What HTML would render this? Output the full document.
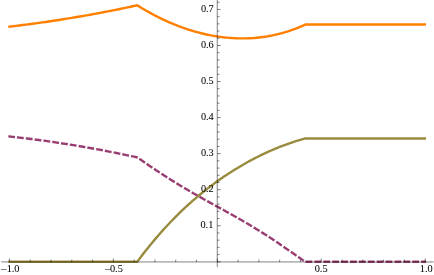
<!DOCTYPE html>
<html><head><meta charset="utf-8"><title>Plot</title>
<style>html,body{margin:0;padding:0;background:#fff;}body{width:434px;height:275px;overflow:hidden;font-family:"Liberation Serif",serif;}svg{display:block;}</style>
</head><body><svg width="434" height="275" viewBox="0 0 434 275" style="will-change:transform"><g fill="none" stroke-width="2.4" stroke-linecap="square" stroke-linejoin="miter" stroke-miterlimit="10">
<path d="M9.50,26.62 L12.78,26.24 L16.05,25.86 L19.33,25.46 L22.61,25.06 L25.88,24.64 L29.16,24.22 L32.44,23.78 L35.72,23.34 L38.99,22.88 L42.27,22.42 L45.55,21.95 L48.82,21.47 L52.10,20.98 L55.38,20.47 L58.65,19.96 L61.93,19.44 L65.21,18.91 L68.48,18.38 L71.76,17.84 L75.04,17.30 L78.32,16.76 L81.59,16.20 L84.87,15.64 L88.15,15.06 L91.42,14.48 L94.70,13.88 L97.98,13.28 L101.25,12.67 L104.53,12.05 L107.81,11.41 L111.08,10.77 L114.36,10.12 L117.64,9.46 L120.92,8.79 L124.19,8.11 L127.47,7.42 L130.75,6.73 L134.02,6.02 L137.30,5.30 L139.43,6.63 L141.56,7.93 L143.69,9.20 L145.83,10.44 L147.96,11.65 L150.09,12.84 L152.22,14.00 L154.35,15.13 L156.48,16.24 L158.62,17.31 L160.75,18.36 L162.88,19.39 L165.01,20.38 L167.14,21.35 L169.27,22.29 L171.41,23.21 L173.54,24.10 L175.67,24.96 L177.80,25.80 L179.93,26.61 L182.06,27.39 L184.20,28.14 L186.33,28.87 L188.46,29.58 L190.59,30.25 L192.72,30.90 L194.85,31.53 L196.99,32.12 L199.12,32.70 L201.25,33.24 L203.38,33.76 L205.51,34.25 L207.64,34.71 L209.78,35.15 L211.91,35.56 L214.04,35.94 L216.17,36.30 L218.30,36.63 L220.43,36.93 L222.57,37.20 L224.70,37.45 L226.83,37.67 L228.96,37.86 L231.09,38.02 L233.22,38.16 L235.36,38.27 L237.49,38.35 L239.62,38.40 L241.75,38.42 L243.88,38.41 L246.01,38.37 L248.15,38.31 L250.28,38.21 L252.41,38.08 L254.54,37.93 L256.67,37.74 L258.80,37.53 L260.94,37.28 L263.07,37.00 L265.20,36.69 L267.33,36.35 L269.46,35.98 L271.59,35.57 L273.73,35.13 L275.86,34.66 L277.99,34.16 L280.12,33.62 L282.25,33.05 L284.38,32.45 L286.52,31.81 L288.65,31.13 L290.78,30.43 L292.91,29.68 L295.04,28.90 L297.17,28.08 L299.31,27.23 L301.44,26.34 L303.57,25.41 L305.70,24.45 L424.80,24.45" stroke="#FF8000"/>
<path d="M9.50,136.50 L12.78,136.86 L16.05,137.22 L19.33,137.59 L22.61,137.98 L25.88,138.37 L29.16,138.78 L32.44,139.19 L35.72,139.61 L38.99,140.04 L42.27,140.48 L45.55,140.93 L48.82,141.39 L52.10,141.86 L55.38,142.34 L58.65,142.83 L61.93,143.33 L65.21,143.84 L68.48,144.35 L71.76,144.88 L75.04,145.42 L78.32,145.96 L81.59,146.52 L84.87,147.08 L88.15,147.66 L91.42,148.24 L94.70,148.84 L97.98,149.44 L101.25,150.05 L104.53,150.67 L107.81,151.31 L111.08,151.95 L114.36,152.60 L117.64,153.26 L120.92,153.93 L124.19,154.61 L127.47,155.30 L130.75,155.99 L134.02,156.70 L137.30,157.42 L139.42,158.88 L141.55,160.34 L143.67,161.79 L145.80,163.25 L147.92,164.70 L150.04,166.14 L152.17,167.57 L154.29,169.00 L156.42,170.42 L158.54,171.83 L160.66,173.23 L162.79,174.61 L164.91,175.99 L167.04,177.35 L169.16,178.71 L171.28,180.04 L173.41,181.37 L175.53,182.69 L177.66,183.99 L179.78,185.28 L181.91,186.56 L184.03,187.83 L186.15,189.08 L188.28,190.33 L190.40,191.56 L192.53,192.79 L194.65,194.01 L196.77,195.22 L198.90,196.42 L201.02,197.61 L203.15,198.80 L205.27,199.98 L207.39,201.16 L209.52,202.33 L211.64,203.50 L213.77,204.67 L215.89,205.84 L218.01,207.00 L220.14,208.17 L222.26,209.34 L224.39,210.51 L226.51,211.69 L228.63,212.87 L230.76,214.05 L232.88,215.24 L235.01,216.44 L237.13,217.64 L239.25,218.85 L241.38,220.07 L243.50,221.30 L245.63,222.54 L247.75,223.79 L249.87,225.05 L252.00,226.33 L254.12,227.61 L256.25,228.91 L258.37,230.22 L260.49,231.55 L262.62,232.89 L264.74,234.24 L266.87,235.60 L268.99,236.98 L271.12,238.36 L273.24,239.77 L275.36,241.18 L277.49,242.60 L279.61,244.04 L281.74,245.49 L283.86,246.94 L285.98,248.41 L288.11,249.88 L290.23,251.36 L292.36,252.84 L294.48,254.33 L296.60,255.82 L298.73,257.30 L300.85,258.79 L302.98,260.27 L305.10,261.75 L424.80,261.75" stroke="#993D71" stroke-dasharray="4.45 4.445" stroke-dashoffset="0.2"/>
<path d="M9.50,261.75 L12.78,261.75 L16.05,261.75 L19.33,261.75 L22.61,261.75 L25.88,261.75 L29.16,261.75 L32.44,261.75 L35.72,261.75 L38.99,261.75 L42.27,261.75 L45.55,261.75 L48.82,261.75 L52.10,261.75 L55.38,261.75 L58.65,261.75 L61.93,261.75 L65.21,261.75 L68.48,261.75 L71.76,261.75 L75.04,261.75 L78.32,261.75 L81.59,261.75 L84.87,261.75 L88.15,261.75 L91.42,261.75 L94.70,261.75 L97.98,261.75 L101.25,261.75 L104.53,261.75 L107.81,261.75 L111.08,261.75 L114.36,261.75 L117.64,261.75 L120.92,261.75 L124.19,261.75 L127.47,261.75 L130.75,261.75 L134.02,261.75 L137.30,261.75 L139.42,258.88 L141.55,256.06 L143.67,253.29 L145.80,250.57 L147.92,247.89 L150.04,245.26 L152.17,242.67 L154.29,240.12 L156.42,237.62 L158.54,235.16 L160.66,232.74 L162.79,230.36 L164.91,228.02 L167.04,225.72 L169.16,223.46 L171.28,221.24 L173.41,219.05 L175.53,216.90 L177.66,214.79 L179.78,212.71 L181.91,210.67 L184.03,208.66 L186.15,206.68 L188.28,204.74 L190.40,202.83 L192.53,200.96 L194.65,199.11 L196.77,197.30 L198.90,195.52 L201.02,193.76 L203.15,192.04 L205.27,190.35 L207.39,188.68 L209.52,187.04 L211.64,185.44 L213.77,183.86 L215.89,182.30 L218.01,180.77 L220.14,179.27 L222.26,177.80 L224.39,176.35 L226.51,174.93 L228.63,173.53 L230.76,172.16 L232.88,170.81 L235.01,169.49 L237.13,168.19 L239.25,166.91 L241.38,165.66 L243.50,164.43 L245.63,163.22 L247.75,162.04 L249.87,160.88 L252.00,159.74 L254.12,158.63 L256.25,157.54 L258.37,156.47 L260.49,155.42 L262.62,154.39 L264.74,153.39 L266.87,152.41 L268.99,151.45 L271.12,150.51 L273.24,149.59 L275.36,148.70 L277.49,147.82 L279.61,146.97 L281.74,146.14 L283.86,145.33 L285.98,144.54 L288.11,143.78 L290.23,143.04 L292.36,142.31 L294.48,141.61 L296.60,140.94 L298.73,140.28 L300.85,139.65 L302.98,139.04 L305.10,138.45 L424.80,138.45" stroke="#998B3D"/>
</g>
<g stroke="#000" stroke-width="0.7" fill="none" stroke-opacity="0.7">
<line x1="1.2" y1="261.95" x2="433.6" y2="261.95"/>
<line x1="217.25" y1="0.0" x2="217.25" y2="267.0"/>
<line x1="9.40" y1="261.95" x2="9.40" y2="258.45"/>
<line x1="30.19" y1="261.95" x2="30.19" y2="259.65"/>
<line x1="50.98" y1="261.95" x2="50.98" y2="259.65"/>
<line x1="71.77" y1="261.95" x2="71.77" y2="259.65"/>
<line x1="92.56" y1="261.95" x2="92.56" y2="259.65"/>
<line x1="113.35" y1="261.95" x2="113.35" y2="258.45"/>
<line x1="134.14" y1="261.95" x2="134.14" y2="259.65"/>
<line x1="154.93" y1="261.95" x2="154.93" y2="259.65"/>
<line x1="175.72" y1="261.95" x2="175.72" y2="259.65"/>
<line x1="196.51" y1="261.95" x2="196.51" y2="259.65"/>
<line x1="217.30" y1="261.95" x2="217.30" y2="258.45"/>
<line x1="238.09" y1="261.95" x2="238.09" y2="259.65"/>
<line x1="258.88" y1="261.95" x2="258.88" y2="259.65"/>
<line x1="279.67" y1="261.95" x2="279.67" y2="259.65"/>
<line x1="300.46" y1="261.95" x2="300.46" y2="259.65"/>
<line x1="321.25" y1="261.95" x2="321.25" y2="258.45"/>
<line x1="342.04" y1="261.95" x2="342.04" y2="259.65"/>
<line x1="362.83" y1="261.95" x2="362.83" y2="259.65"/>
<line x1="383.62" y1="261.95" x2="383.62" y2="259.65"/>
<line x1="404.41" y1="261.95" x2="404.41" y2="259.65"/>
<line x1="425.20" y1="261.95" x2="425.20" y2="258.45"/>
<line x1="217.25" y1="261.80" x2="220.75" y2="261.80"/>
<line x1="217.25" y1="254.59" x2="219.55" y2="254.59"/>
<line x1="217.25" y1="247.38" x2="219.55" y2="247.38"/>
<line x1="217.25" y1="240.17" x2="219.55" y2="240.17"/>
<line x1="217.25" y1="232.96" x2="219.55" y2="232.96"/>
<line x1="217.25" y1="225.75" x2="220.75" y2="225.75"/>
<line x1="217.25" y1="218.54" x2="219.55" y2="218.54"/>
<line x1="217.25" y1="211.33" x2="219.55" y2="211.33"/>
<line x1="217.25" y1="204.12" x2="219.55" y2="204.12"/>
<line x1="217.25" y1="196.91" x2="219.55" y2="196.91"/>
<line x1="217.25" y1="189.70" x2="220.75" y2="189.70"/>
<line x1="217.25" y1="182.49" x2="219.55" y2="182.49"/>
<line x1="217.25" y1="175.28" x2="219.55" y2="175.28"/>
<line x1="217.25" y1="168.07" x2="219.55" y2="168.07"/>
<line x1="217.25" y1="160.86" x2="219.55" y2="160.86"/>
<line x1="217.25" y1="153.65" x2="220.75" y2="153.65"/>
<line x1="217.25" y1="146.44" x2="219.55" y2="146.44"/>
<line x1="217.25" y1="139.23" x2="219.55" y2="139.23"/>
<line x1="217.25" y1="132.02" x2="219.55" y2="132.02"/>
<line x1="217.25" y1="124.81" x2="219.55" y2="124.81"/>
<line x1="217.25" y1="117.60" x2="220.75" y2="117.60"/>
<line x1="217.25" y1="110.39" x2="219.55" y2="110.39"/>
<line x1="217.25" y1="103.18" x2="219.55" y2="103.18"/>
<line x1="217.25" y1="95.97" x2="219.55" y2="95.97"/>
<line x1="217.25" y1="88.76" x2="219.55" y2="88.76"/>
<line x1="217.25" y1="81.55" x2="220.75" y2="81.55"/>
<line x1="217.25" y1="74.34" x2="219.55" y2="74.34"/>
<line x1="217.25" y1="67.13" x2="219.55" y2="67.13"/>
<line x1="217.25" y1="59.92" x2="219.55" y2="59.92"/>
<line x1="217.25" y1="52.71" x2="219.55" y2="52.71"/>
<line x1="217.25" y1="45.50" x2="220.75" y2="45.50"/>
<line x1="217.25" y1="38.29" x2="219.55" y2="38.29"/>
<line x1="217.25" y1="31.08" x2="219.55" y2="31.08"/>
<line x1="217.25" y1="23.87" x2="219.55" y2="23.87"/>
<line x1="217.25" y1="16.66" x2="219.55" y2="16.66"/>
<line x1="217.25" y1="9.45" x2="220.75" y2="9.45"/>
<line x1="217.25" y1="2.24" x2="219.55" y2="2.24"/>
</g>
<g font-family="Liberation Serif, serif" font-size="10.3" fill="#000" stroke="#000" stroke-width="0.05" style="filter:grayscale(1)">
<text x="6.65" y="272.1">1.0</text>
<text stroke="none" transform="translate(0.45,273.1) scale(1.2,1)">−</text>
<text x="109.95" y="272.1">0.5</text>
<text stroke="none" transform="translate(104.60,273.1) scale(1.2,1)">−</text>
<text x="321.15" y="272.1" text-anchor="middle">0.5</text>
<text x="426.25" y="272.1" text-anchor="middle">1.0</text>
<text x="213.35" y="227.80" text-anchor="end">0.1</text>
<text x="213.75" y="191.75" text-anchor="end">0.2</text>
<text x="213.75" y="155.70" text-anchor="end">0.3</text>
<text x="213.75" y="119.65" text-anchor="end">0.4</text>
<text x="213.75" y="83.60" text-anchor="end">0.5</text>
<text x="213.75" y="47.55" text-anchor="end">0.6</text>
<text x="213.75" y="11.50" text-anchor="end">0.7</text>
</g></svg></body></html>
